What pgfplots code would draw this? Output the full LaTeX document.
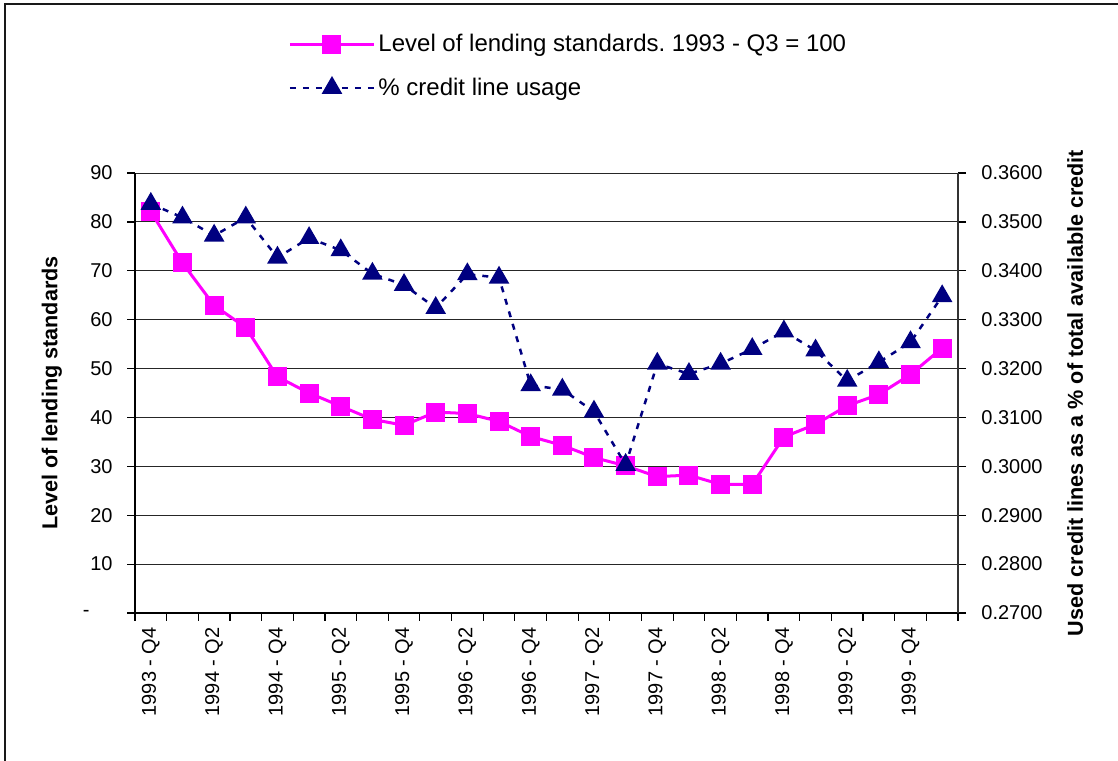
\documentclass[border=0pt]{standalone}
\usepackage{fontspec}
\setmainfont{Liberation Sans}
\usepackage{pgfplots}
\pgfplotsset{compat=1.18}
\frenchspacing
\definecolor{mag}{RGB}{255,0,255}
\definecolor{navy}{RGB}{0,0,128}
\newcommand{\tickfont}{\fontsize{10bp}{12bp}\selectfont}
\newcommand{\labfont}{\fontsize{10.8bp}{12.5bp}\selectfont}
\newcommand{\legfont}{\fontsize{12bp}{14bp}\selectfont}
\begin{document}
\begin{tikzpicture}
\begin{axis}[
  at={(67.5bp,74bp)}, anchor=south west,
  scale only axis, width=411.5bp, height=220bp,
  xmin=-0.5, xmax=25.5, ymin=0, ymax=90,
  axis x line*=bottom, axis y line*=left,
  axis line style={black, line width=0.8bp},
  tick align=outside, major tick length=4bp,
  every tick/.style={black, line width=0.6bp},
  xtick={-0.5,0.5,...,25.5}, xticklabels={},
  extra x ticks={0,2,...,24},
  extra x tick labels={1993 - Q4,1994 - Q2,1994 - Q4,1995 - Q2,1995 - Q4,1996 - Q2,1996 - Q4,1997 - Q2,1997 - Q4,1998 - Q2,1998 - Q4,1999 - Q2,1999 - Q4},
  extra x tick style={major tick length=0pt, xticklabel style={rotate=90, anchor=east, font=\tickfont, inner xsep=7bp, inner ysep=0pt}},
  ytick={0,10,...,90},
  yticklabels={-\hspace*{11.5bp},10,20,30,40,50,60,70,80,90},
  yticklabel style={font=\tickfont, inner sep=0pt, xshift=-7bp},
  ymajorgrids, grid style={black!85, line width=0.5bp},
  ylabel={\bfseries Level of lending standards},
  ylabel style={font=\labfont, at={(axis description cs:-0.1009,0.5)}, anchor=center},
  legend style={at={(rel axis cs:0.186,1.323)}, anchor=north west, draw=none, fill=none, font=\legfont, row sep=8.5bp, inner sep=0pt, nodes={inner sep=1.5bp}},
  legend cell align=left,
  legend image code/.code={\draw[mark repeat=2,mark phase=2] plot coordinates {(0bp,0bp) (21bp,0bp) (42bp,0bp)};},
]
\addplot[mag, line width=1.5bp, mark=square*, mark size=4bp, mark options={solid, fill=mag, draw=mag}] coordinates {
(0,82.1) (1,71.6) (2,62.9) (3,58.4) (4,48.3) (5,45.0) (6,42.3) (7,39.6) (8,38.4) (9,41.1)
(10,40.8) (11,39.2) (12,36.1) (13,34.3) (14,31.8) (15,30.1) (16,27.9) (17,28.2) (18,26.3) (19,26.3)
(20,36.0) (21,38.6) (22,42.4) (23,44.7) (24,48.8) (25,54.2)};
\addlegendentry{Level of lending standards.\ 1993 - Q3 = 100}
\addlegendimage{navy, line width=1.25bp, dash pattern=on 3bp off 3.5bp, mark=triangle*, mark size=4.7bp, mark options={solid, fill=navy, draw=navy}}
\addlegendentry{\% credit line usage}
\end{axis}
\begin{axis}[
  at={(67.5bp,74bp)}, anchor=south west,
  scale only axis, width=411.5bp, height=220bp,
  xmin=-0.5, xmax=25.5, ymin=0.27, ymax=0.36,
  axis x line=none, axis y line*=right,
  axis line style={black!80, line width=0.8bp},
  tick align=outside, major tick length=4bp,
  every tick/.style={black, line width=0.6bp},
  ytick={0.27,0.28,0.29,0.30,0.31,0.32,0.33,0.34,0.35,0.36},
  yticklabel style={/pgf/number format/.cd, fixed, fixed zerofill, precision=4, assume math mode=true, /tikz/.cd, font=\tickfont, inner sep=0pt, xshift=7.5bp},
  ylabel={\bfseries Used credit lines as a \% of total available credit},
  ylabel style={font=\labfont, at={(axis description cs:1.1422,0.5)}, anchor=center},
]
\addplot[navy, line width=1.25bp, dash pattern=on 3bp off 3.5bp, mark=triangle*, mark size=4.7bp, mark options={solid, fill=navy, draw=navy}] coordinates {
(0,0.3537) (1,0.3509) (2,0.3472) (3,0.3509) (4,0.3427) (5,0.3467) (6,0.3442) (7,0.3394) (8,0.3371) (9,0.3324)
(10,0.3393) (11,0.3386) (12,0.3166) (13,0.3157) (14,0.3112) (15,0.3003) (16,0.3210) (17,0.3189) (18,0.3210) (19,0.3240)
(20,0.3276) (21,0.3237) (22,0.3175) (23,0.3213) (24,0.3254) (25,0.3348)};
\end{axis}
\draw[black!90, line width=1bp] (2.5bp,0) -- (2.5bp,378.5bp) -- (559bp,378.5bp);
\pgfresetboundingbox
\path[use as bounding box] (0,0) rectangle (559bp,380.5bp);
\end{tikzpicture}
\end{document}
